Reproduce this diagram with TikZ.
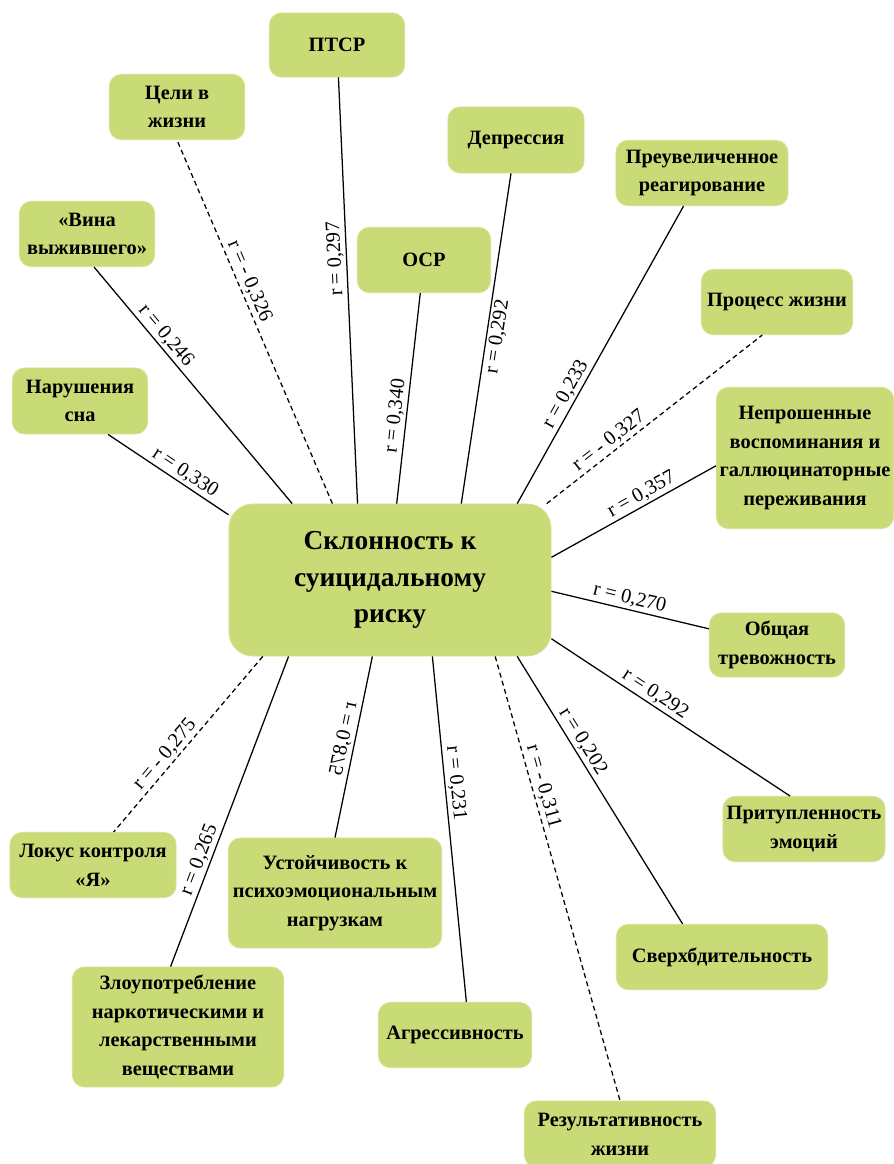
\documentclass[tikz,border=0pt]{standalone}
\usepackage{fontspec}
\setmainfont{Liberation Serif}[BoldFont={Liberation Serif Bold}]
\usepackage{graphicx}
\usepackage{tikz}
\usepackage{xcolor}

\definecolor{boxgreen}{HTML}{C9DB76}
\definecolor{boxrim}{HTML}{D3E393}

\tikzset{
    box/.style={rectangle, rounded corners=0.3cm, fill=boxgreen, draw=boxrim, line width=0.6pt, align=center, inner sep=2pt, font=\bfseries\fontsize{14.5}{20.5}\selectfont},
    rlab/.style={sloped, inner sep=1.5pt, font=\fontsize{14.5}{16}\selectfont},
    neg/.style={dashed, dash pattern=on 3.5pt off 2.5pt}
}

\begin{document}
\begin{tikzpicture}[x=0.025cm, y=-0.025cm, line width=0.9pt]
                        \useasboundingbox (0,0) rectangle (894,1164);
                        \node[box, rounded corners=0.6cm, minimum width=8.05cm, minimum height=3.8cm, font=\bfseries\fontsize{19.5}{26}\selectfont] (main) at (390, 580) {Склонность к\\суицидальному\\риску};
                        \node[box, minimum width=3.38cm, minimum height=1.6cm] (ptsr) at (337, 45) {ПТСР};
                        \node[box, minimum width=3.38cm, minimum height=1.63cm] (cel) at (177, 107) {Цели в\\жизни};
                        \node[box, minimum width=3.4cm, minimum height=1.65cm] (dep) at (516, 140) {Депрессия};
                        \node[box, minimum width=4.3cm, minimum height=1.63cm] (prev) at (702, 173) {Преувеличенное\\реагирование};
                        \node[box, minimum width=3.38cm, minimum height=1.63cm] (vina) at (87, 234) {«Вина\\выжившего»};
                        \node[box, minimum width=3.33cm, minimum height=1.63cm] (osr) at (424, 260) {ОСР};
                        \node[box, minimum width=3.78cm, minimum height=1.63cm] (proc) at (777, 302) {Процесс жизни};
                        \node[box, minimum width=3.38cm, minimum height=1.65cm] (nar) at (80, 401) {Нарушения\\сна};
                        \node[box, minimum width=4.43cm, minimum height=3.53cm] (nep) at (805, 458) {Непрошенные\\воспоминания и\\галлюцинаторные\\переживания};
                        \node[box, minimum width=3.38cm, minimum height=1.6cm] (ob) at (777, 645) {Общая\\тревожность};
                        \node[box, minimum width=4.05cm, minimum height=1.63cm] (prit) at (804, 829) {Притупленность\\эмоций};
                        \node[box, minimum width=4.15cm, minimum height=1.63cm] (lok) at (93, 865) {Локус контроля\\«Я»};
                        \node[box, minimum width=5.33cm, minimum height=2.75cm] (ust) at (335, 893) {Устойчивость к\\психоэмоциональным\\нагрузкам};
                        \node[box, minimum width=5.28cm, minimum height=1.63cm] (sv) at (722, 957) {Сверхбдительность};
                        \node[box, minimum width=5.28cm, minimum height=3cm] (zlo) at (178, 1027) {Злоупотребление\\наркотическими и\\лекарственными\\веществами};
                        \node[box, minimum width=3.83cm, minimum height=1.63cm] (agr) at (455, 1035) {Агрессивность};
                        \node[box, minimum width=4.78cm, minimum height=1.65cm] (res) at (620, 1134) {Результативность\\жизни};
                        \draw
                        (main.113) edge node[rlab, allow upside down, above, pos=0.575] {r = 0,297} (ptsr)
                        (main.127) edge[neg] node[rlab, above, pos=0.6] {r = - 0,326} (cel.south)
                        (main.142) edge node[rlab, above, pos=0.68] {r = 0,246} (vina.282)
                        (main.158) edge node[rlab, above, pos=0.41] {r = 0,330} (nar.310)
                        (main.85) edge node[rlab, above, pos=0.41] {r = 0,340} (osr)
                        (main.47) edge node[rlab, below, pos=0.51] {r = 0,292} (dep)
                        (main.31) edge node[rlab, above, pos=0.35] {r = 0,233} (prev)
                        (main.26) edge[neg] node[rlab, above, pos=0.32] {r = - 0,327} (proc.246)
                        (main.8) edge node[rlab, above, pos=0.58] {r = 0,357} (nep.185)
                        (main.356) edge node[rlab, above, pos=0.48] {r = 0,270} (ob)
                        (main.340) edge node[rlab, above, pos=0.41] {r = 0,292} (prit.113)
                        (main.329) edge node[rlab, above, pos=0.34] {r = 0,202} (sv.140)
                        (main.324) edge[neg] node[rlab, above, pos=0.3] {r = - 0,311} (res.north)
                        (main.299) edge node[rlab, above, pos=0.37] {r = 0,231} (agr.71)
                        (main.257) edge node[rlab, allow upside down, below, pos=0.47] {\scalebox{1}[-1]{r = 0,875}} (ust.north)
                        (main.217) edge node[rlab, above, pos=0.67] {r = 0,265} (zlo.97)
                        (main.211) edge[neg] node[rlab, above, pos=0.6] {r = - 0,275} (lok.58);
\end{tikzpicture}
\end{document}
